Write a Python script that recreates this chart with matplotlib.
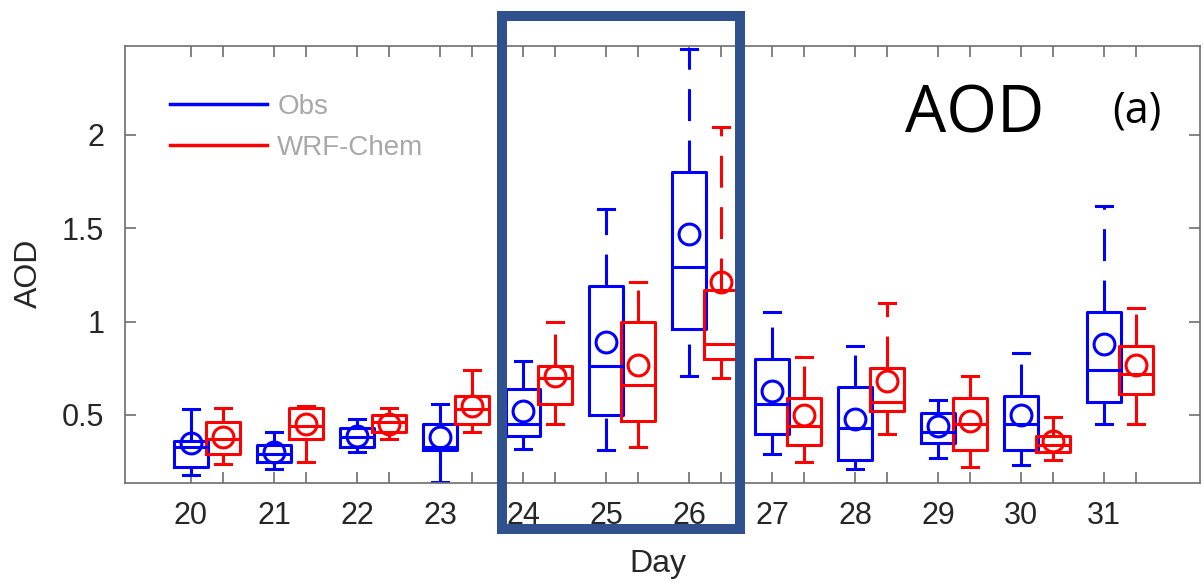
import numpy as np
import matplotlib.pyplot as plt
from matplotlib.lines import Line2D
from matplotlib.patches import Rectangle

plt.rcParams['font.family'] = ['Liberation Sans', 'DejaVu Sans']
plt.rcParams['lines.scale_dashes'] = False

days = np.arange(20, 32)

# observed AOD statistics per day
obs_low  = [0.18, 0.21, 0.30, 0.14, 0.32, 0.31, 0.71, 0.29, 0.21, 0.27, 0.23, 0.45]
obs_q1   = [0.22, 0.25, 0.33, 0.31, 0.39, 0.50, 0.96, 0.40, 0.26, 0.35, 0.31, 0.57]
obs_med  = [0.33, 0.29, 0.38, 0.33, 0.45, 0.76, 1.29, 0.56, 0.43, 0.41, 0.45, 0.74]
obs_q3   = [0.36, 0.34, 0.43, 0.45, 0.64, 1.19, 1.80, 0.80, 0.65, 0.51, 0.60, 1.05]
obs_high = [0.53, 0.41, 0.48, 0.56, 0.79, 1.60, 2.46, 1.05, 0.87, 0.58, 0.83, 1.62]
obs_mean = [0.35, 0.30, 0.39, 0.38, 0.52, 0.89, 1.47, 0.63, 0.48, 0.44, 0.50, 0.88]

# WRF-Chem AOD statistics per day
wrf_low  = [0.24, 0.25, 0.37, 0.41, 0.45, 0.33, 0.70, 0.25, 0.40, 0.22, 0.26, 0.45]
wrf_q1   = [0.29, 0.37, 0.41, 0.45, 0.56, 0.47, 0.80, 0.34, 0.52, 0.31, 0.30, 0.61]
wrf_med  = [0.37, 0.44, 0.46, 0.53, 0.70, 0.66, 0.88, 0.44, 0.57, 0.45, 0.34, 0.72]
wrf_q3   = [0.46, 0.54, 0.50, 0.60, 0.76, 1.00, 1.17, 0.59, 0.75, 0.59, 0.39, 0.87]
wrf_high = [0.54, 0.55, 0.54, 0.74, 1.00, 1.21, 2.04, 0.81, 1.10, 0.71, 0.49, 1.07]
wrf_mean = [0.38, 0.45, 0.45, 0.55, 0.71, 0.77, 1.21, 0.50, 0.68, 0.47, 0.36, 0.77]

tick_labels = [str(d) for d in days]


def make_stats(low, q1, med, q3, high, mean):
    return [dict(whislo=a, q1=b, med=c, q3=d, whishi=e, mean=f, fliers=[])
            for a, b, c, d, e, f in zip(low, q1, med, q3, high, mean)]


fig = plt.figure(figsize=(12.03, 5.86), dpi=100)
ax = fig.add_axes([0.1039, 0.1758, 0.8936, 0.7457])

offset = 0.39
groups = [
    (make_stats(obs_low, obs_q1, obs_med, obs_q3, obs_high, obs_mean), days, 'blue'),
    (make_stats(wrf_low, wrf_q1, wrf_med, wrf_q3, wrf_high, wrf_mean), days + offset, 'red'),
]
for stats, pos, c in groups:
    bp = ax.bxp(stats, positions=pos, widths=0.41, capwidths=0.19,
                showmeans=True, manage_ticks=False,
                boxprops=dict(color=c, lw=2.2),
                whiskerprops=dict(color=c, lw=2.2, linestyle=(0, (23, 14))),
                capprops=dict(color=c, lw=2.2),
                medianprops=dict(color=c, lw=2.2),
                meanprops=dict(marker='o', mfc='none', mec=c, ms=15, mew=2.2))
    # dash pattern runs upward from the lower end on both whiskers
    for w in bp['whiskers'][::2]:
        x, y = w.get_data()
        w.set_data(x[::-1], y[::-1])

ax.set_xlim(19.205, 32.157)
ax.set_ylim(0.136, 2.475)

positions = np.sort(np.concatenate([days, days + offset]))
labels = []
for d in tick_labels:
    labels += [d, '']
ax.set_xticks(positions)
ax.set_xticklabels(labels)
ax.set_yticks([0.5, 1, 1.5, 2])
ax.set_yticklabels(['0.5', '1', '1.5', '2'])

axis_grey = '#6e6e6e'
for s in ax.spines.values():
    s.set_color(axis_grey)
    s.set_linewidth(1.2)
ax.tick_params(axis='x', direction='in', top=True, length=8, width=1.2,
               color=axis_grey, labelcolor='#262626', labelsize=22, pad=13)
ax.tick_params(axis='y', direction='in', right=True, length=8, width=1.2,
               color=axis_grey, labelcolor='#262626', labelsize=22, pad=15)

ax.set_xlabel('Day', fontsize=23, color='#262626')
ax.set_ylabel('AOD', fontsize=23, color='#262626')
ax.xaxis.set_label_coords(0.496, -0.151)
ax.yaxis.set_label_coords(-0.075, 0.48)

handles = [Line2D([], [], color='blue', lw=2.5), Line2D([], [], color='red', lw=2.5)]
ax.legend(handles, ['Obs', 'WRF-Chem'], loc='upper left', bbox_to_anchor=(0.042, 0.89),
          frameon=False, fontsize=20, labelcolor='#a8a8a8', handlelength=3.5,
          handletextpad=0.36, labelspacing=0.52, borderpad=0, borderaxespad=0)

fig.text(905 / 1203, 1 - 133 / 586, 'AOD', fontsize=47, family='Open Sans',
         ha='left', va='baseline')
fig.text(1112 / 1203, 1 - 123 / 586, '(a)', fontsize=31, family='Open Sans',
         ha='left', va='baseline')

# highlight box around days 24-26
fig.add_artist(Rectangle((502 / 1203, 1 - 529 / 586), 238 / 1203, 513 / 586,
                         transform=fig.transFigure, fill=False,
                         edgecolor='#2f528f', lw=7.2, zorder=10))

fig.savefig('out.png', dpi=100)
